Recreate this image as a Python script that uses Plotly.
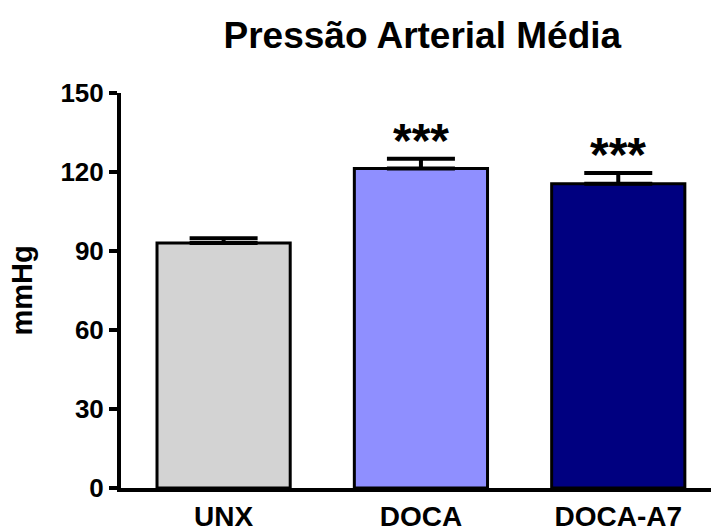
import plotly.graph_objects as go

# Mean arterial pressure per group (mmHg) with SEM
groups = ["UNX", "DOCA", "DOCA-A7"]
means = [93.0, 121.3, 115.5]
sem = [1.8, 3.7, 4.1]
bar_colors = ["#D3D3D3", "#8F8FFF", "#000080"]
significance = ["", "***", "***"]
y_ticks = [0, 30, 60, 90, 120, 150]

FONT = "Liberation Sans, Arial, sans-serif"

fig = go.Figure()
fig.add_trace(go.Bar(
    x=groups,
    y=means,
    width=0.675,
    marker=dict(color=bar_colors, line=dict(color="black", width=3)),
    error_y=dict(type="data", array=sem, arrayminus=[0] * len(sem),
                 symmetric=False, color="black", thickness=4, width=34),
    showlegend=False,
))

for g, m, e, s in zip(groups, means, sem, significance):
    if s:
        fig.add_annotation(x=g, y=m + e, text=s, showarrow=False,
                           yanchor="bottom", yshift=-10,
                           font=dict(family=FONT, size=48, color="black", weight="bold"))

fig.update_layout(
    width=711, height=532,
    margin=dict(l=121, r=0, t=93, b=44),
    paper_bgcolor="white", plot_bgcolor="white",
    title=dict(text="<b>Pressão Arterial Média</b>", x=0.594, xanchor="center",
               y=0.934, yanchor="middle",
               font=dict(family=FONT, size=37, color="black")),
    bargap=0.3,
)
fig.update_xaxes(
    range=[-0.52, 2.47], showline=True, linecolor="black", linewidth=4,
    ticks="", showgrid=False, zeroline=False, ticklabelstandoff=0,
    automargin=False,
    tickfont=dict(family=FONT, size=28, color="black", weight="bold"),
)
fig.update_yaxes(
    range=[0, 150], tickvals=y_ticks, showline=True, linecolor="black", linewidth=4,
    ticks="outside", ticklen=8, tickwidth=4, tickcolor="black",
    showgrid=False, zeroline=False, automargin=False,
    tickfont=dict(family=FONT, size=26, color="black", weight="bold"),
    title=dict(text="<b>mmHg</b>", standoff=20,
               font=dict(family=FONT, size=29, color="black")),
)

fig.write_html("out.html")
